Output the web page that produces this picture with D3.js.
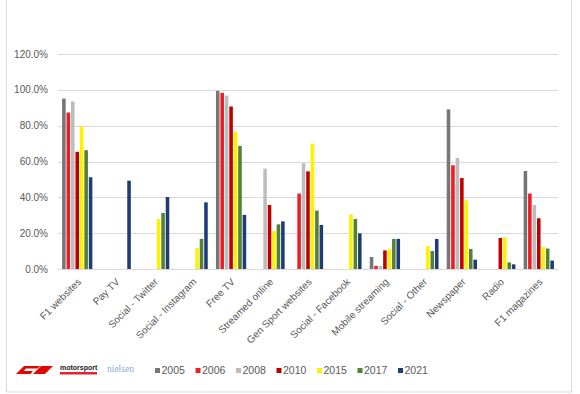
<!DOCTYPE html>
<html>
<head>
<meta charset="utf-8">
<script src="https://cdn.jsdelivr.net/npm/d3@7"></script>
<style>
  body { margin: 0; background: #fff; }
  svg text { font-family: "Liberation Sans", Arial, sans-serif; fill: #595959; }
</style>
</head>
<body>
<svg id="chart" width="580" height="394"></svg>
<script>
// data (percent)
const categories = ["F1 websites", "Pay TV", "Social - Twitter", "Social - Instagram", "Free TV",
  "Streamed online", "Gen Sport websites", "Social - Facebook", "Mobile streaming", "Social - Other",
  "Newspaper", "Radio", "F1 magazines"];
const years = ["2005", "2006", "2008", "2010", "2015", "2017", "2021"];
const yTicks = [0, 20, 40, 60, 80, 100, 120];

const s2005 = [95.1, null, null, null, 99.4, null, null, null, 6.7, null, 89.1, null, 54.7];
const s2006 = [87.3, null, null, null, 98.3, null, 42.1, null, 1.7, null, 57.9, null, 42.1];
const s2008 = [93.5, null, null, null, 96.8, 56.0, 59.0, null, 1.7, null, 62.0, null, 35.7];
const s2010 = [65.4, null, null, null, 90.7, 35.7, 54.5, null, 10.4, null, 50.8, 17.3, 28.3];
const s2015 = [79.5, null, 27.9, 11.7, 76.5, 21.2, 70.0, 30.5, 11.0, 12.8, 38.3, 17.7, 12.3];
const s2017 = [66.3, null, 31.3, 16.8, 68.7, 24.9, 32.6, 27.9, 16.8, 10.0, 11.2, 3.7, 11.4];
const s2021 = [51.2, 49.3, 40.2, 37.2, 30.2, 26.6, 24.6, 19.9, 16.8, 16.8, 5.2, 2.6, 4.7];

const seriesValues = [s2005, s2006, s2008, s2010, s2015, s2017, s2021];
const colors = ["#767676", "#ee1c24", "#bdbdbd", "#c00000", "#fff200", "#538135", "#1f3c78"];

const svg = d3.select("#chart");

// рамка
svg.append("rect")
  .attr("x", 6.5).attr("y", -2)
  .attr("width", 565).attr("height", 394)
  .attr("fill", "none").attr("stroke", "#d9d9d9");

const x = d3.scaleBand().domain(categories).range([58, 558]);
const xInner = d3.scaleBand().domain(years).range([0, x.bandwidth()])
  .paddingInner(0.2).paddingOuter(0.92);
const y = d3.scaleLinear().domain([0, 120]).range([269, 54]);

// gridlines
svg.append("g")
  .selectAll("line")
  .data(yTicks)
  .join("line")
  .attr("x1", 58).attr("x2", 558)
  .attr("y1", d => Math.round(y(d)) + 0.5)
  .attr("y2", d => Math.round(y(d)) + 0.5)
  .attr("stroke", "#d9d9d9").attr("stroke-width", 1);

// y tick labels
svg.append("g")
  .selectAll("text")
  .data(yTicks)
  .join("text")
  .attr("x", 48)
  .attr("y", d => y(d))
  .attr("dy", "0.35em")
  .attr("text-anchor", "end")
  .attr("font-size", 10)
  .text(d => d3.format(".1%")(d / 100));

// bars
const groups = svg.append("g")
  .selectAll("g")
  .data(years)
  .join("g")
  .attr("fill", (d, i) => colors[i]);

groups.selectAll("rect")
  .data((yr, i) => categories.map((c, j) => ({ cat: c, year: yr, v: seriesValues[i][j] }))
    .filter(d => d.v !== null))
  .join("rect")
  .attr("x", d => x(d.cat) + xInner(d.year))
  .attr("width", xInner.bandwidth())
  .attr("y", d => y(d.v))
  .attr("height", d => y(0) - y(d.v));

// category labels
svg.append("g")
  .selectAll("text")
  .data(categories)
  .join("text")
  .attr("transform", d => `translate(${x(d) + x.bandwidth() / 2 + 2},${280}) rotate(-45)`)
  .attr("text-anchor", "end")
  .attr("dy", "0.35em")
  .attr("font-size", 10)
  .text(d => d);

// legend
const legend = svg.append("g")
  .selectAll("g")
  .data(years)
  .join("g")
  .attr("transform", (d, i) => `translate(${155 + i * 40.5},370.5)`);
legend.append("rect")
  .attr("x", 0).attr("y", -2.5).attr("width", 5).attr("height", 5)
  .attr("fill", (d, i) => colors[i]);
legend.append("text")
  .attr("x", 6.5).attr("dy", "0.35em")
  .attr("font-size", 10.5)
  .text(d => d);

// logos (декор)
const logo = svg.append("g");
logo.append("path")
  .attr("d", "M16,374 L24,366 L40,366 L37.5,368.5 L26,368.5 L23.5,371 L33,371 L30.5,374 L21,374 Z M33,374 L41,366 L53,366 L45,374 Z")
  .attr("fill", "#e10600");
logo.append("text")
  .attr("x", 60).attr("y", 370)
  .attr("font-size", 7).attr("font-weight", "bold")
  .style("fill", "#222")
  .text("motorsport");
logo.append("rect")
  .attr("x", 60).attr("y", 372).attr("width", 37).attr("height", 2.5)
  .attr("fill", "#e4252d");
logo.append("text")
  .attr("x", 107).attr("y", 372)
  .attr("font-size", 9.5)
  .style("font-family", "'Liberation Serif', serif")
  .style("fill", "#8fa8c8")
  .text("nielsen");
</script>
</body>
</html>
